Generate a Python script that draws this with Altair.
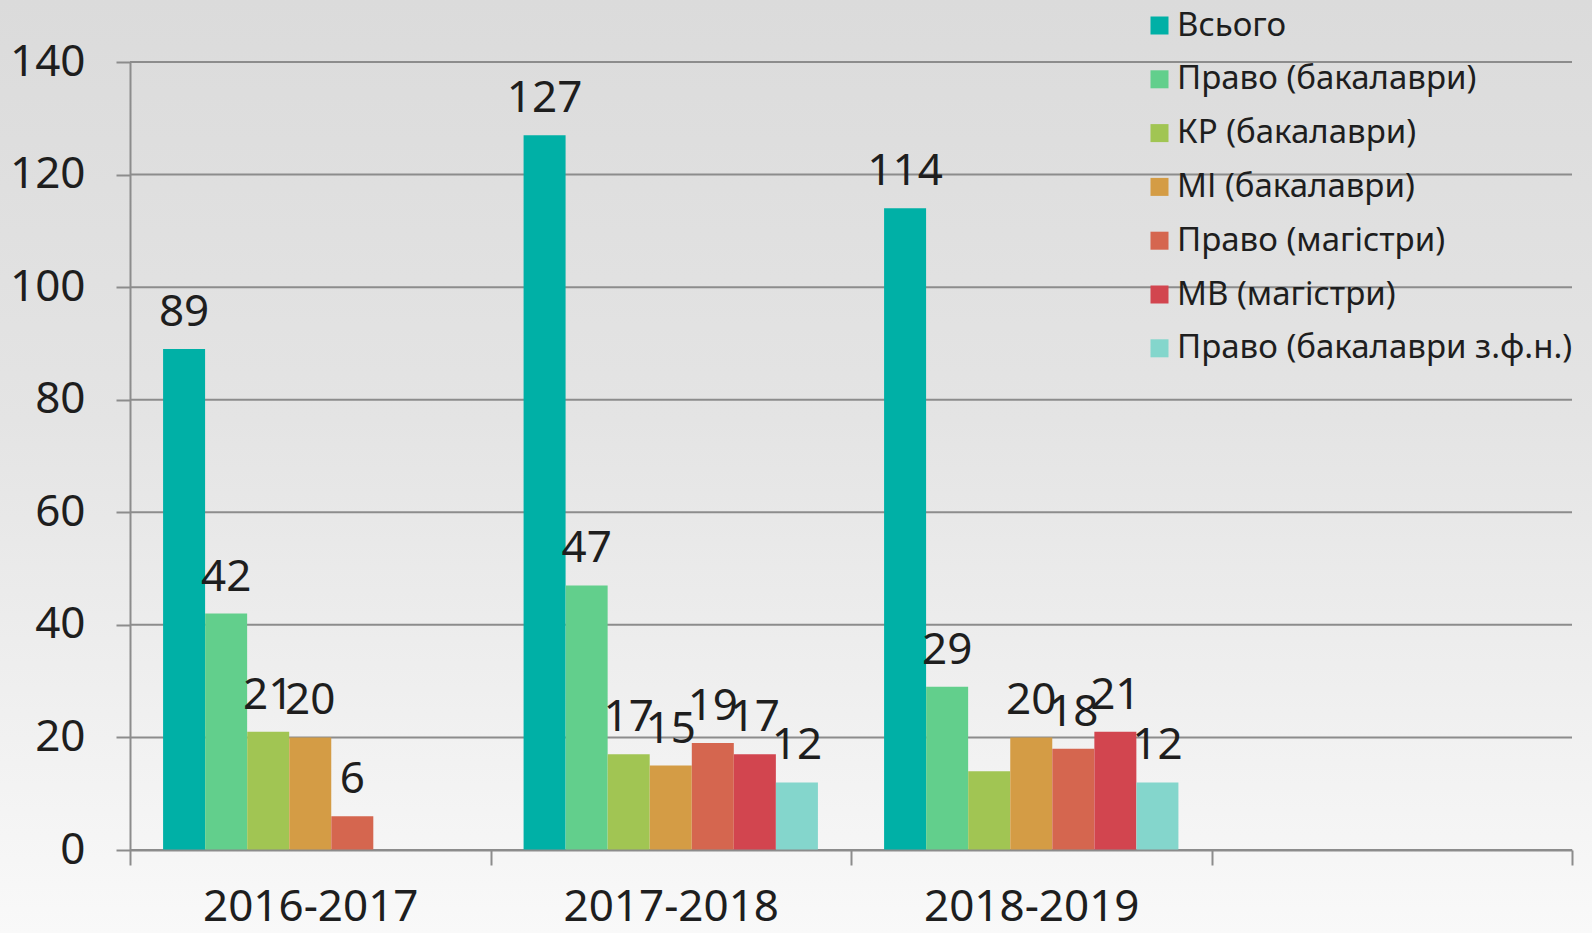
import altair as alt
import pandas as pd

years = ["2016-2017", "2017-2018", "2018-2019"]
x_domain = years + [" "]
series = [
    "Всього",
    "Право (бакалаври)",
    "КР (бакалаври)",
    "МІ (бакалаври)",
    "Право (магістри)",
    "МВ (магістри)",
    "Право (бакалаври з.ф.н.)",
]
colors = ["#00b0a6", "#62cf8c", "#a1c553", "#d49c45", "#d5664f", "#d2454f", "#84d6cc"]

vsogo = [89, 127, 114]
pravo_bak = [42, 47, 29]
kr_bak = [21, 17, 14]
mi_bak = [20, 15, 20]
pravo_mag = [6, 19, 18]
mv_mag = [None, 17, 21]
pravo_zfn = [None, 12, 12]
# which bars carry a data label (the 14 of КР 2018-2019 has none)
kr_label = [True, True, False]

y_ticks = [0, 20, 40, 60, 80, 100, 120, 140]

FONT = "Noto Sans"
TXT = "#1e1e1e"
GRID = "#8c8c8c"
W, H = 1442, 788
PAD = {"left": 130, "top": 62, "right": 20, "bottom": 83}

rows = []
all_vals = [vsogo, pravo_bak, kr_bak, mi_bak, pravo_mag, mv_mag, pravo_zfn]
for s, vals in zip(series, all_vals):
    for i, (yr, v) in enumerate(zip(years, vals)):
        if v is None:
            continue
        show = True
        if s == "КР (бакалаври)":
            show = kr_label[i]
        rows.append({"year": yr, "series": s, "value": v, "show": show})
df = pd.DataFrame(rows)

x_scale = alt.Scale(domain=x_domain, paddingInner=0, paddingOuter=0)
x_axis = alt.Axis(
    title=None, tickBand="extent", grid=False, domain=True, domainColor=GRID,
    domainWidth=2, ticks=True, tickColor=GRID, tickWidth=2, tickSize=15,
    labelFont=FONT, labelFontSize=44, labelColor=TXT, labelPadding=20,
    labelAngle=0, labelLimit=0, zindex=1,
)
xoff_enc = alt.XOffset(
    "series:N", scale=alt.Scale(domain=series, paddingInner=0, paddingOuter=0.786)
)
y_scale = alt.Scale(domain=[0, 140], nice=False)
y_axis = alt.Axis(
    title=None, values=y_ticks, grid=False, domain=True, domainColor=GRID,
    domainWidth=2, ticks=True, tickColor=GRID, tickWidth=2, tickSize=14,
    labelFont=FONT, labelFontSize=44, labelColor=TXT, labelPadding=31,
    zindex=1,
)

gradient = alt.LinearGradient(
    gradient="linear",
    stops=[
        alt.GradientStop(color="#dbdbdb", offset=0),
        alt.GradientStop(color="#e4e4e4", offset=0.45),
        alt.GradientStop(color="#f9f9f9", offset=1),
    ],
    x1=0, x2=0, y1=0, y2=1,
)

bg = alt.Chart(pd.DataFrame({"a": [0]})).mark_rect(fill=gradient).encode(
    x=alt.value(-PAD["left"]),
    x2=alt.value(W + PAD["right"]),
    y=alt.value(-PAD["top"]),
    y2=alt.value(H + PAD["bottom"]),
)

grid = alt.Chart(pd.DataFrame({"value": y_ticks})).mark_rule(
    color=GRID, strokeWidth=2
).encode(
    y=alt.Y("value:Q", scale=y_scale, axis=y_axis),
    x=alt.value(0),
    x2=alt.value(W),
)

bars = alt.Chart(df).mark_bar(size=42).encode(
    x=alt.X("year:N", scale=x_scale, axis=x_axis),
    xOffset=xoff_enc,
    y=alt.Y("value:Q", scale=y_scale, axis=y_axis),
    color=alt.Color(
        "series:N",
        scale=alt.Scale(domain=series, range=colors),
        legend=alt.Legend(
            title=None, orient="none", legendX=1013, legendY=-53,
            symbolType="square", symbolSize=324, symbolStrokeWidth=0,
            labelFont=FONT, labelFontSize=33, labelColor=TXT, labelLimit=0,
            rowPadding=19.8, labelOffset=1,
        ),
    ),
)

labels = alt.Chart(df).transform_filter("datum.show").mark_text(
    font=FONT, fontSize=44, color=TXT, baseline="bottom", dy=-14
).encode(
    x=alt.X("year:N", scale=x_scale, axis=x_axis),
    xOffset=xoff_enc,
    y=alt.Y("value:Q", scale=y_scale, axis=y_axis),
    text="value:Q",
)

chart = alt.layer(bg, grid, bars, labels).properties(
    width=W,
    height=H,
    autosize=alt.AutoSizeParams(type="none"),
    padding=PAD,
).configure_view(stroke=None).configure(background="#e8e8e8")

chart.save("out.html", embed_options={"renderer": "svg", "actions": False})
